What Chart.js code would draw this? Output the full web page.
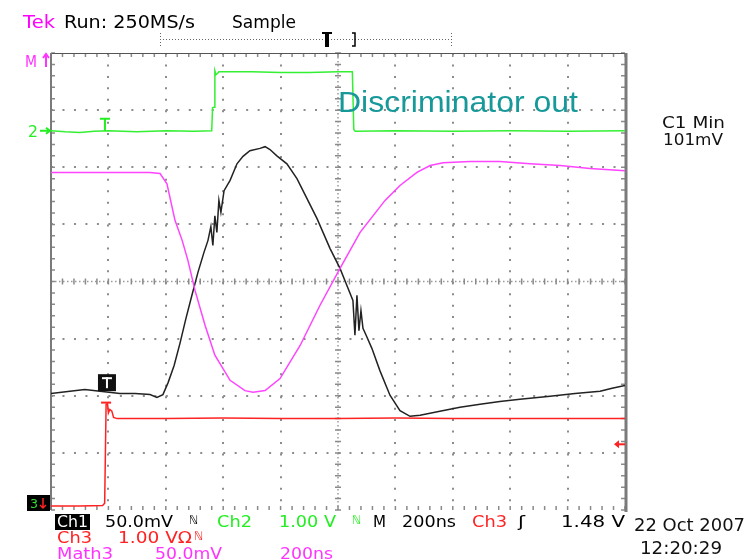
<!DOCTYPE html>
<html>
<head>
<meta charset="utf-8">
<script src="https://cdn.jsdelivr.net/npm/chart.js@4.4.1/dist/chart.umd.min.js"></script>
<style>
html, body { margin: 0; padding: 0; background: #fff; }
#wrap { width: 751px; height: 560px; position: relative; }
</style>
</head>
<body>
<div id="wrap"><canvas id="scope" width="751" height="560"></canvas></div>
<script>
// time in ns (200 ns/div), amplitude in screen divisions (0 = centre line)
const ch1Time = [-1000, -934, -882, -829, -760, -707, -655, -631, -610, -592, -571, -550, -530, -509, -488, -467, -453, -443, -436, -429, -422, -415, -408, -397, -376, -352, -331, -307, -272, -254, -237, -213, -178, -143, -108, -73, -28, 7, 31, 52, 59, 66, 73, 80, 87, 98, 118, 146, 181, 216, 251, 286, 355, 425, 495, 564, 634, 739, 826, 913, 955, 1000];
const ch1Div = [-1.96, -1.92, -1.89, -1.92, -1.96, -1.96, -1.98, -2.03, -1.98, -1.77, -1.47, -1.07, -0.65, -0.24, 0.16, 0.51, 0.72, 0.96, 0.63, 1.15, 0.86, 1.42, 1.21, 1.59, 1.77, 2.06, 2.19, 2.29, 2.33, 2.36, 2.31, 2.20, 2.06, 1.80, 1.45, 1.10, 0.58, 0.23, -0.07, -0.33, -0.94, -0.24, -0.86, -0.51, -0.82, -0.94, -1.17, -1.56, -1.99, -2.26, -2.36, -2.34, -2.27, -2.20, -2.15, -2.10, -2.06, -2.01, -1.96, -1.92, -1.87, -1.82];

const ch2Time = [-1000, -950, -900, -850, -800, -700, -600, -500, -440, -437, -432, -429, -425, -420, -415, -300, -200, -100, 0, 45, 50, 55, 60, 200, 400, 600, 800, 1000];
const ch2Div = [2.64, 2.62, 2.61, 2.63, 2.64, 2.62, 2.64, 2.63, 2.64, 3.04, 3.05, 3.69, 3.62, 3.64, 3.67, 3.67, 3.66, 3.66, 3.67, 3.67, 3.67, 2.66, 2.63, 2.64, 2.63, 2.64, 2.63, 2.64];

const ch3Time = [-1000, -900, -820, -813, -808, -803, -800, -795, -788, -782, -770, -600, -400, -200, 0, 200, 400, 600, 800, 1000];
const ch3Div = [-3.93, -3.93, -3.92, -3.88, -2.15, -2.14, -2.30, -2.24, -2.27, -2.38, -2.40, -2.40, -2.39, -2.40, -2.40, -2.39, -2.40, -2.40, -2.40, -2.40];

const mathTime = [-1000, -800, -655, -620, -596, -568, -543, -523, -498, -463, -429, -376, -324, -296, -254, -202, -132, -63, 7, 77, 164, 216, 275, 321, 366, 460, 564, 669, 774, 878, 1000];
const mathDiv = [1.91, 1.91, 1.91, 1.89, 1.71, 1.07, 0.72, 0.37, -0.16, -0.77, -1.29, -1.73, -1.91, -1.94, -1.91, -1.70, -1.12, -0.42, 0.23, 0.86, 1.42, 1.68, 1.91, 2.03, 2.08, 2.10, 2.10, 2.06, 2.03, 1.98, 1.94];

// ticks on the graticule: time divisions and amplitude divisions
const timeTicks = [-1000, -800, -600, -400, -200, 0, 200, 400, 600, 800, 1000];
const divTicks = [-4, -3, -2, -1, 0, 1, 2, 3, 4];

const toPoints = (xs, ys) => xs.map((x, i) => ({ x, y: ys[i] }));

function fitText(ctx, str, x, y, w, color, size, family) {
    ctx.save();
    ctx.font = size + 'px ' + (family || '"DejaVu Sans"');
    const m = ctx.measureText(str).width;
    ctx.translate(x, y);
    ctx.scale(w / m, 1);
    ctx.fillStyle = color;
    ctx.textBaseline = 'alphabetic';
    ctx.fillText(str, 0, 0);
    ctx.restore();
}

const graticule = {
    id: 'graticule',
    beforeDatasetsDraw(chart) {
        const { ctx, chartArea: a, scales: { x, y } } = chart;
        const cx = x.getPixelForValue(0), cy = y.getPixelForValue(0);
        ctx.save();
        // centre cross, dotted
        ctx.strokeStyle = '#9a9a9a';
        ctx.lineWidth = 1.5;
        ctx.setLineDash([1.5, 2.5]);
        ctx.beginPath();
        ctx.moveTo(a.left, cy); ctx.lineTo(a.right, cy);
        ctx.moveTo(cx, a.top); ctx.lineTo(cx, a.bottom);
        ctx.stroke();
        ctx.setLineDash([]);
        // minor ticks on centre cross and on the frame
        ctx.strokeStyle = '#8a8a8a';
        ctx.lineWidth = 1.5;
        ctx.beginPath();
        for (let t = -1000; t <= 1000; t += 40) {
            const px = x.getPixelForValue(t);
            ctx.moveTo(px, cy - 3); ctx.lineTo(px, cy + 3);
            ctx.moveTo(px, a.top); ctx.lineTo(px, a.top + 4);
            ctx.moveTo(px, a.bottom); ctx.lineTo(px, a.bottom - 4);
        }
        for (let d = -4; d <= 4.001; d += 0.2) {
            const py = y.getPixelForValue(d);
            ctx.moveTo(cx - 3, py); ctx.lineTo(cx + 3, py);
            ctx.moveTo(a.left, py); ctx.lineTo(a.left + 4, py);
            ctx.moveTo(a.right, py); ctx.lineTo(a.right - 4, py);
        }
        ctx.stroke();
        // frame
        ctx.strokeStyle = '#555';
        ctx.lineWidth = 1;
        ctx.beginPath();
        ctx.moveTo(a.left, a.top + 0.5); ctx.lineTo(a.right, a.top + 0.5);
        ctx.stroke();
        ctx.strokeStyle = '#7a7a7a';
        ctx.lineWidth = 2;
        ctx.beginPath();
        ctx.moveTo(a.left, a.top); ctx.lineTo(a.left, a.bottom);
        ctx.stroke();
        ctx.lineWidth = 3;
        ctx.beginPath();
        ctx.moveTo(a.right + 1, a.top); ctx.lineTo(a.right + 1, a.bottom + 2);
        ctx.stroke();
        ctx.restore();
    },
    afterDraw(chart) {
        const { ctx, chartArea: a, scales: { x, y } } = chart;
        ctx.save();

        // header
        fitText(ctx, 'Tek', 23, 28, 32, '#ff00ff', 17);
        fitText(ctx, 'Run: 250MS/s', 64, 28, 131, '#000', 17);
        fitText(ctx, 'Sample', 232, 28, 64, '#000', 17);

        // record view bar
        ctx.strokeStyle = '#666';
        ctx.lineWidth = 1;
        ctx.setLineDash([1, 2]);
        ctx.beginPath();
        ctx.moveTo(160, 39.5); ctx.lineTo(452, 39.5);
        ctx.moveTo(160.5, 33); ctx.lineTo(160.5, 46);
        ctx.moveTo(451.5, 33); ctx.lineTo(451.5, 46);
        ctx.stroke();
        ctx.setLineDash([]);
        ctx.fillStyle = '#000';
        ctx.fillRect(325, 32, 4, 15);
        ctx.fillRect(322, 32, 10, 2);
        ctx.lineWidth = 1.5;
        ctx.strokeStyle = '#000';
        ctx.beginPath();
        ctx.moveTo(352, 33); ctx.lineTo(355, 33); ctx.lineTo(355, 46); ctx.lineTo(352, 46);
        ctx.stroke();

        // channel markers at the left edge
        fitText(ctx, 'M', 25, 67, 12, '#ff33ff', 15);
        ctx.strokeStyle = '#ff33ff';
        ctx.lineWidth = 2;
        ctx.beginPath();
        ctx.moveTo(46, 67); ctx.lineTo(46, 55);
        ctx.moveTo(43, 58); ctx.lineTo(46, 54); ctx.lineTo(49, 58);
        ctx.stroke();

        const g2 = y.getPixelForValue(2.64);
        fitText(ctx, '2', 28, g2 + 6, 10, '#22ee22', 15);
        ctx.strokeStyle = '#22ee22';
        ctx.beginPath();
        ctx.moveTo(40, g2); ctx.lineTo(50, g2);
        ctx.moveTo(46, g2 - 3); ctx.lineTo(50, g2); ctx.lineTo(46, g2 + 3);
        ctx.stroke();

        ctx.fillStyle = '#000';
        ctx.fillRect(27, 495, 23, 16);
        fitText(ctx, '3', 30, 508, 8, '#33dd33', 13);
        ctx.strokeStyle = '#ff2222';
        ctx.lineWidth = 1.5;
        ctx.beginPath();
        ctx.moveTo(43, 498); ctx.lineTo(43, 508);
        ctx.moveTo(40, 505); ctx.lineTo(43, 508); ctx.lineTo(46, 505);
        ctx.stroke();

        // trigger markers on traces
        const tx = x.getPixelForValue(-812);
        ctx.strokeStyle = '#22ee22';
        ctx.lineWidth = 2;
        ctx.beginPath();
        ctx.moveTo(tx, g2); ctx.lineTo(tx, g2 - 12);
        ctx.moveTo(tx - 5, g2 - 12); ctx.lineTo(tx + 5, g2 - 12);
        ctx.stroke();

        const bx = x.getPixelForValue(-805), by = y.getPixelForValue(-1.78);
        ctx.fillStyle = '#111';
        ctx.fillRect(bx - 9, by - 9, 18, 17);
        ctx.fillStyle = '#fff';
        ctx.fillRect(bx - 5, by - 6, 10, 2);
        ctx.fillRect(bx - 1, by - 6, 2, 11);

        const rx = x.getPixelForValue(-808), ry = y.getPixelForValue(-2.12);
        ctx.strokeStyle = '#ff2222';
        ctx.beginPath();
        ctx.moveTo(rx - 5, ry); ctx.lineTo(rx + 5, ry);
        ctx.stroke();

        // trigger level arrow at right edge
        const ly = y.getPixelForValue(-2.85);
        ctx.fillStyle = '#ff2222';
        ctx.beginPath();
        ctx.moveTo(a.right - 11, ly); ctx.lineTo(a.right - 6, ly - 4); ctx.lineTo(a.right - 6, ly + 4);
        ctx.closePath();
        ctx.fill();
        ctx.fillRect(a.right - 7, ly - 1, 7, 2);

        // annotation
        fitText(ctx, 'Discriminator out', 338, 112, 240, '#17999a', 30, '"Liberation Sans"');

        // measurement readout
        fitText(ctx, 'C1 Min', 662, 128, 63, '#111', 16);
        fitText(ctx, '101mV', 663, 145, 60, '#111', 16);

        // bottom status lines
        ctx.fillStyle = '#000';
        ctx.fillRect(55, 514, 35, 16);
        fitText(ctx, 'Ch1', 57, 527, 31, '#fff', 16);
        fitText(ctx, '50.0mV', 105, 527, 68, '#000', 16);
        fitText(ctx, 'ℕ', 189, 524, 9, '#000', 12);
        fitText(ctx, 'Ch2', 217, 527, 35, '#22ee22', 16);
        fitText(ctx, '1.00 V', 279, 527, 57, '#22ee22', 16);
        fitText(ctx, 'ℕ', 352, 524, 9, '#22ee22', 12);
        fitText(ctx, 'M', 373, 527, 13, '#000', 16);
        fitText(ctx, '200ns', 402, 527, 54, '#000', 16);
        fitText(ctx, 'Ch3', 472, 527, 35, '#ff2222', 16);
        fitText(ctx, 'ʃ', 518, 527, 7, '#000', 16);
        fitText(ctx, '1.48 V', 561, 527, 64, '#000', 16);

        fitText(ctx, 'Ch3', 57, 543, 35, '#ff2222', 16);
        fitText(ctx, '1.00 VΩ', 118, 543, 74, '#ff2222', 16);
        fitText(ctx, 'ℕ', 194, 540, 9, '#ff2222', 12);

        fitText(ctx, 'Math3', 57, 559, 56, '#ff33ff', 16);
        fitText(ctx, '50.0mV', 155, 559, 67, '#ff33ff', 16);
        fitText(ctx, '200ns', 280, 559, 53, '#ff33ff', 16);

        fitText(ctx, '22 Oct 2007', 634, 531, 111, '#111', 17);
        fitText(ctx, '12:20:29', 640, 554, 82, '#111', 17);

        ctx.restore();
    }
};

const gridColor = (edge) => (c) => {
    const v = c.tick ? c.tick.value : null;
    if (v === 0 || Math.abs(v) === edge) return 'rgba(0,0,0,0)';
    return '#8c8c8c';
};

new Chart(document.getElementById('scope'), {
    type: 'line',
    data: {
        datasets: [
            { label: 'Ch2', data: toPoints(ch2Time, ch2Div), borderColor: '#33f033', borderWidth: 1.5 },
            { label: 'Ch3', data: toPoints(ch3Time, ch3Div), borderColor: '#ff2222', borderWidth: 1.5 },
            { label: 'Math3', data: toPoints(mathTime, mathDiv), borderColor: '#ff44ff', borderWidth: 1.5 },
            { label: 'Ch1', data: toPoints(ch1Time, ch1Div), borderColor: '#222', borderWidth: 1.5 }
        ]
    },
    options: {
        responsive: false,
        animation: false,
        devicePixelRatio: 1,
        layout: { padding: { left: 51, top: 53, right: 126, bottom: 50 } },
        elements: { point: { radius: 0 }, line: { tension: 0 } },
        plugins: { legend: { display: false }, tooltip: { enabled: false } },
        scales: {
            x: {
                type: 'linear', min: -1000, max: 1000,
                afterBuildTicks: (s) => { s.ticks = timeTicks.map(v => ({ value: v })); },
                ticks: { display: false },
                grid: { drawTicks: false, color: gridColor(1000), lineWidth: 2 },
                border: { display: false, dash: [2, 9.44] },
                afterFit: (s) => { s.height = 0; }
            },
            y: {
                type: 'linear', min: -4, max: 4,
                afterBuildTicks: (s) => { s.ticks = divTicks.map(v => ({ value: v })); },
                ticks: { display: false },
                grid: { drawTicks: false, color: gridColor(4), lineWidth: 2 },
                border: { display: false, dash: [2, 9.48] },
                afterFit: (s) => { s.width = 0; }
            }
        }
    },
    plugins: [graticule]
});
</script>
</body>
</html>
